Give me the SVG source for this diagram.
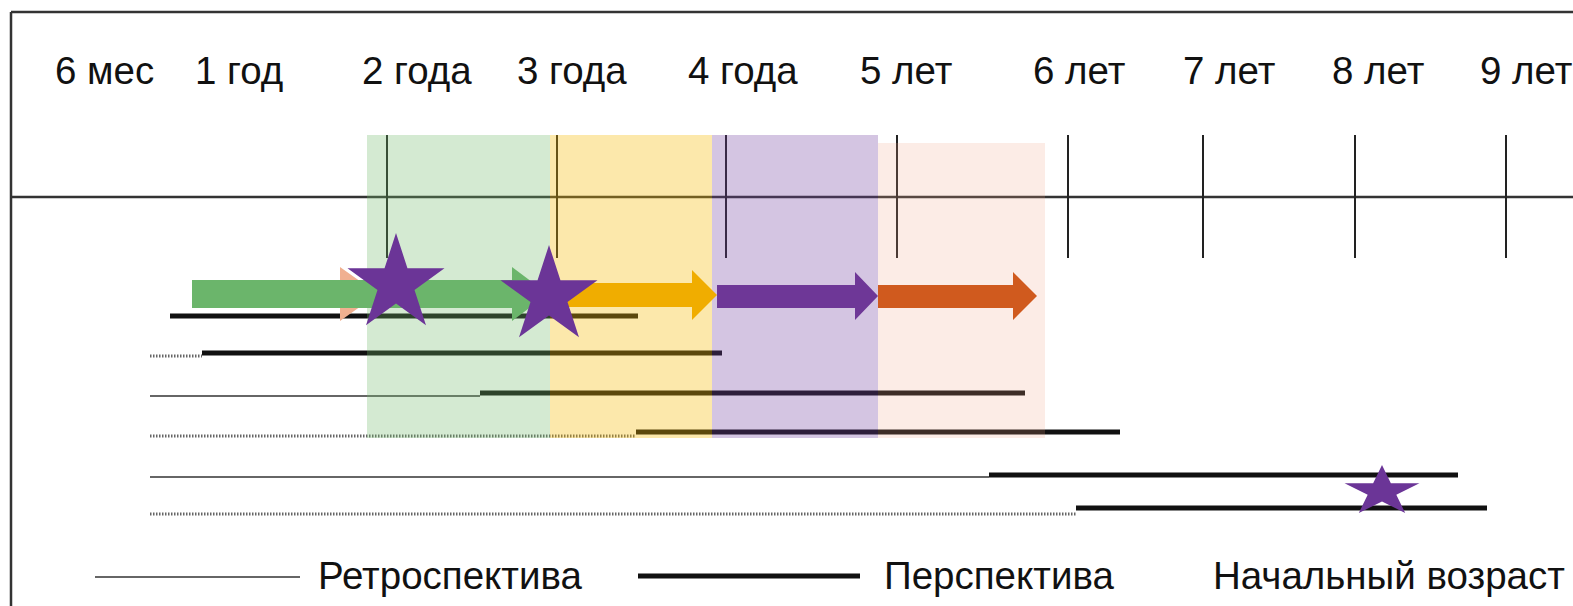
<svg xmlns="http://www.w3.org/2000/svg" xmlns:xlink="http://www.w3.org/1999/xlink" width="1573" height="606" viewBox="0 0 1573 606">
<style>
  .lbl { font-family: "Liberation Sans", Arial, sans-serif; font-size: 38.5px; fill: #111; }
  .frame { stroke: #333; stroke-width: 2.5; fill: none; }
  .tick { stroke: #222; stroke-width: 2; }
  .persp { stroke: #111; stroke-width: 5; fill: none; }
  .retro { stroke: #666; stroke-width: 2; fill: none; }
  .retrodot { stroke: #666; stroke-width: 3; stroke-dasharray: 1.5 1.5; fill: none; }
  .star { fill: #6b3597; }
</style>
<defs>
  <path id="star" d="M0,-1 L0.2245,-0.309 L0.951,-0.309 L0.363,0.118 L0.588,0.809 L0,0.382 L-0.588,0.809 L-0.363,0.118 L-0.951,-0.309 L-0.2245,-0.309 Z"/>
</defs>
<rect x="0" y="0" width="1573" height="606" fill="#fff"/>
<g id="frame">
  <line class="frame" x1="11" y1="12" x2="1573" y2="12"/>
  <line class="frame" x1="11" y1="12" x2="11" y2="606"/>
  <line class="frame" x1="11" y1="197" x2="1573" y2="197"/>
</g>
<g id="labels">
  <text class="lbl" x="55" y="84">6 мес</text>
  <text class="lbl" x="195" y="84">1 год</text>
  <text class="lbl" x="362" y="84">2 года</text>
  <text class="lbl" x="517" y="84">3 года</text>
  <text class="lbl" x="688" y="84">4 года</text>
  <text class="lbl" x="860" y="84">5 лет</text>
  <text class="lbl" x="1033" y="84">6 лет</text>
  <text class="lbl" x="1183" y="84">7 лет</text>
  <text class="lbl" x="1332" y="84">8 лет</text>
  <text class="lbl" x="1480" y="84">9 лет</text>
</g>
<g id="ticks">
  <line class="tick" x1="387" y1="135" x2="387" y2="258"/>
  <line class="tick" x1="557" y1="135" x2="557" y2="258"/>
  <line class="tick" x1="726" y1="135" x2="726" y2="258"/>
  <line class="tick" x1="897" y1="135" x2="897" y2="258"/>
  <line class="tick" x1="1068" y1="135" x2="1068" y2="258"/>
  <line class="tick" x1="1203" y1="135" x2="1203" y2="258"/>
  <line class="tick" x1="1355" y1="135" x2="1355" y2="258"/>
  <line class="tick" x1="1506" y1="135" x2="1506" y2="258"/>
</g>
<g id="connectors">
  <line class="persp" x1="170" y1="316" x2="638" y2="316"/>
  <line class="retrodot" x1="150" y1="356" x2="202" y2="356"/>
  <line class="persp" x1="202" y1="353" x2="722" y2="353"/>
  <line class="retro" x1="150" y1="396" x2="480" y2="396"/>
  <line class="persp" x1="480" y1="393" x2="1025" y2="393"/>
  <line class="retrodot" x1="150" y1="436" x2="636" y2="436"/>
  <line class="persp" x1="636" y1="432" x2="1120" y2="432"/>
  <line class="retro" x1="150" y1="477" x2="989" y2="477"/>
  <line class="persp" x1="989" y1="475" x2="1458" y2="475"/>
  <line class="retrodot" x1="150" y1="514" x2="1076" y2="514"/>
  <line class="persp" x1="1076" y1="508" x2="1487" y2="508"/>
</g>
<g id="regions">
  <rect id="region-green" x="367" y="135" width="183" height="303" fill="#70b86a" fill-opacity="0.3"/>
  <rect id="region-yellow" x="550" y="135" width="162" height="303" fill="#f5b800" fill-opacity="0.33"/>
  <rect id="region-purple" x="712" y="135" width="166" height="303" fill="#7040a0" fill-opacity="0.3"/>
  <rect id="region-peach" x="878" y="143" width="167" height="295" fill="#f0a080" fill-opacity="0.2"/>
</g>
<g id="arrows">
  <polygon id="arrow-salmon" points="192,280 340,280 340,267 378,294 340,321 340,308 192,308" fill="#f0b090"/>
  <polygon id="arrow-green" points="192,280 512,280 512,267 548,294 512,321 512,308 192,308" fill="#6bb56b"/>
  <polygon id="arrow-yellow" points="560,283 692,283 692,270 717,295 692,320 692,307 560,307" fill="#f0ad00"/>
  <polygon id="arrow-purple" points="717,285 855,285 855,272 878,296 855,320 855,308 717,308" fill="#6e3797"/>
  <polygon id="arrow-orange" points="878,285 1013,285 1013,272 1037,296 1013,320 1013,308 878,308" fill="#d05a1e"/>
</g>
<g id="stars">
  <use id="star-1" class="star" xlink:href="#star" transform="translate(396,284) scale(51)"/>
  <use id="star-2" class="star" xlink:href="#star" transform="translate(549,296) scale(51)"/>
  <use id="star-3" class="star" xlink:href="#star" transform="translate(1382,491.5) scale(39.4,26.5)"/>
</g>
<g id="legend">
  <line class="retro" x1="95" y1="577" x2="300" y2="577"/>
  <text class="lbl" x="318" y="589">Ретроспектива</text>
  <line class="persp" x1="638" y1="576" x2="860" y2="576"/>
  <text class="lbl" x="884" y="589">Перспектива</text>
  <text class="lbl" x="1213" y="589">Начальный возраст</text>
</g>
</svg>
